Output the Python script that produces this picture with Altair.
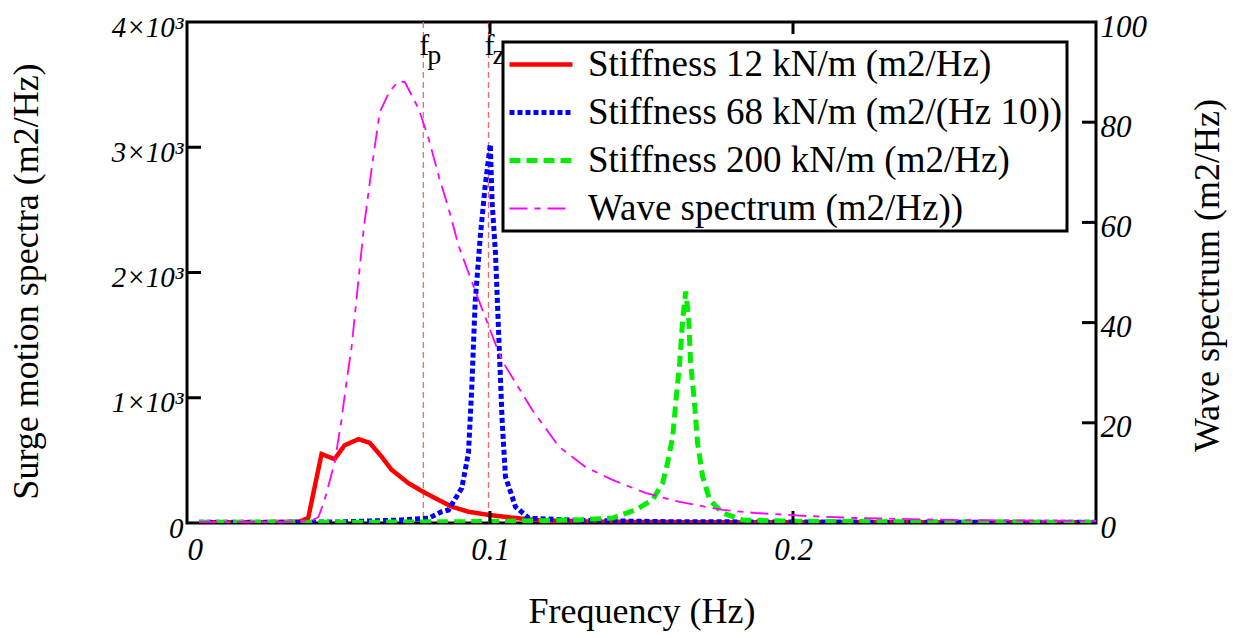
import altair as alt
import pandas as pd

# ---- data ----
S12 = "Stiffness 12 kN/m (m2/Hz)"
S68 = "Stiffness 68 kN/m (m2/(Hz 10))"
S200 = "Stiffness 200 kN/m (m2/Hz)"
WAVE = "Wave spectrum (m2/Hz))"

red_x = [0.004, 0.02, 0.037, 0.040, 0.0444, 0.0487, 0.052, 0.0566, 0.0603, 0.0642, 0.0675,
         0.0731, 0.0775, 0.0819, 0.0874, 0.0929, 0.0997, 0.1083, 0.117, 0.137, 0.17, 0.2, 0.25, 0.3]
red_y = [5, 5, 10, 40, 550, 510, 620, 670, 640, 530, 425,
         318, 255, 198, 130, 90, 64, 40, 20, 10, 6, 5, 5, 5]

blue_x = [0.004, 0.03, 0.05, 0.0705, 0.0797, 0.0841, 0.0863, 0.0907, 0.0929, 0.094, 0.0951,
          0.0968, 0.0984, 0.1001, 0.1007, 0.1018, 0.1029, 0.104, 0.1051, 0.1084, 0.1128,
          0.13, 0.16, 0.2, 0.25, 0.3]
blue_y = [5, 5, 8, 24, 38, 90, 104, 280, 560, 1090, 1760,
          2290, 2690, 3024, 2560, 2157, 1490, 824, 370, 130, 38,
          20, 10, 8, 6, 5]

green_x = [0.004, 0.05, 0.1, 0.12, 0.13, 0.1404, 0.148, 0.1536, 0.157, 0.1586, 0.1603, 0.1613,
           0.1626, 0.1636, 0.1646, 0.1656, 0.1662, 0.1675, 0.1685, 0.1702, 0.1725, 0.1768,
           0.1834, 0.2, 0.25, 0.3]
green_y = [5, 5, 12, 20, 26, 40, 104, 184, 320, 480, 688, 960,
           1280, 1624, 1848, 1624, 1280, 960, 640, 368, 184, 80,
           24, 14, 8, 6]

wave_x = [0.004, 0.03, 0.041, 0.0434, 0.0454, 0.0487, 0.051, 0.0526, 0.0543, 0.0583, 0.0609,
          0.0636, 0.0669, 0.0699, 0.0719, 0.0765, 0.0798, 0.0831, 0.0864, 0.0897, 0.0962,
          0.1029, 0.1051, 0.1139, 0.1228, 0.1315, 0.1404, 0.1513, 0.1626, 0.1768, 0.1877,
          0.2043, 0.2209, 0.253, 0.3]
wave_y = [0.2, 0.2, 0.4, 1.2, 4.6, 12, 20.6, 28, 35, 58.6, 70.6,
          82, 86.2, 88.2, 88, 82.6, 76.6, 69.2, 62.6, 55.2, 44.6,
          34, 31.3, 22.6, 15.2, 11.2, 8.6, 6, 4.2, 2.6, 2,
          1.4, 1, 0.6, 0.4]

marker_f = [0.078, 0.0995]
marker_sub = ["p", "z"]

left_tick_values = [1000, 2000, 3000]
right_tick_values = [20, 40, 60, 80]
x_tick_values = [0.1, 0.2]

series_order = [S12, S68, S200, WAVE]
series_colors = ["#ff0000", "#0000ff", "#00ee00", "#ff00ff"]
series_dash = [[1, 0], [5, 3], [11, 6], [18, 7, 6, 7]]
series_width = [4.5, 5, 5, 1.8]

# ---- tables ----
rows = []
for name, xs, ys in [(S12, red_x, red_y), (S68, blue_x, blue_y), (S200, green_x, green_y)]:
    for a, b in zip(xs, ys):
        rows.append({"f": a, "v": b, "series": name})
stiff_df = pd.DataFrame(rows)
wave_df = pd.DataFrame({"f": wave_x, "w": wave_y, "series": [WAVE] * len(wave_x)})
marker_df = pd.DataFrame({"f": marker_f, "lab": marker_sub})
lt_df = pd.DataFrame({"v": left_tick_values})
rt_df = pd.DataFrame({"w": right_tick_values})
xt_df = pd.DataFrame({"f": x_tick_values})

W, H = 909, 501
SERIF = "Liberation Serif"
LBL = 31

color = alt.Color("series:N", scale=alt.Scale(domain=series_order, range=series_colors),
                  legend=alt.Legend(title=None))
dash = alt.StrokeDash("series:N", scale=alt.Scale(domain=series_order, range=series_dash),
                      legend=alt.Legend(title=None))
swidth = alt.StrokeWidth("series:N",
                         scale=alt.Scale(type="ordinal", domain=series_order, range=series_width),
                         legend=alt.Legend(title=None))

xscale = alt.Scale(domain=[0, 0.3], nice=False, zero=False)
x_axis = alt.Axis(values=[0, 0.1, 0.2],
                  labelExpr="datum.value == 0 ? '0' : format(datum.value, '.1f')",
                  ticks=False, domain=False, grid=False, labelPadding=12,
                  labelFont=SERIF, labelFontStyle="italic", labelFontSize=LBL,
                  labelColor="black",
                  titleFont=SERIF, titleFontSize=36, titleFontWeight="normal",
                  titleColor="black", titleBaseline="alphabetic", titleY=99)
X = alt.X("f:Q", scale=xscale, title="Frequency (Hz)", axis=x_axis)

yl_scale = alt.Scale(domain=[0, 4000], nice=False)
yl_axis = alt.Axis(orient="left", values=[0, 1000, 2000, 3000, 4000],
                   labelExpr="datum.value == 0 ? '0' : format(datum.value/1000, 'd') + '×10³'",
                   ticks=False, domain=False, grid=False, labelPadding=4, labelOffset=5,
                   labelFont=SERIF, labelFontStyle="italic", labelFontSize=29,
                   labelColor="black",
                   titleFont=SERIF, titleFontSize=36, titleFontWeight="normal",
                   titleColor="black", titleAngle=270, titleBaseline="alphabetic",
                   titleAlign="center", titleX=-150, titleY=259)
YL = alt.Y("v:Q", scale=yl_scale, title="Surge motion spectra (m2/Hz)", axis=yl_axis)

yr_scale = alt.Scale(domain=[0, 100], nice=False)
yr_axis = alt.Axis(orient="right", values=[0, 20, 40, 60, 80, 100],
                   ticks=False, domain=False, grid=False, labelPadding=4, labelOffset=5,
                   labelFont=SERIF, labelFontStyle="italic", labelFontSize=LBL,
                   labelColor="black",
                   titleFont=SERIF, titleFontSize=36, titleFontWeight="normal",
                   titleColor="black", titleAngle=270, titleBaseline="alphabetic",
                   titleAlign="center", titleX=122, titleY=253)
YR = alt.Y("w:Q", scale=yr_scale, title="Wave spectrum (m2/Hz)", axis=yr_axis)

stiff = alt.Chart(stiff_df).mark_line(clip=True, strokeCap="butt").encode(
    x=X, y=YL, color=color, strokeDash=dash, strokeWidth=swidth)

left_ticks = alt.Chart(lt_df).mark_rule(color="black", strokeWidth=3).encode(
    y=YL, x=alt.value(0), x2=alt.value(14))

x_ticks_bottom = alt.Chart(xt_df).mark_rule(color="black", strokeWidth=3).encode(
    x=X, y=alt.value(H - 12), y2=alt.value(H))
x_ticks_top = alt.Chart(xt_df).mark_rule(color="black", strokeWidth=3).encode(
    x=X, y=alt.value(0), y2=alt.value(12))

markers = alt.Chart(marker_df).mark_rule(color="#f26a6a", strokeDash=[6, 4], strokeWidth=1.3).encode(
    x=X)
f_text = alt.Chart(marker_df).mark_text(text="f", font=SERIF, fontSize=30, align="left",
                                        baseline="alphabetic", dx=-4, color="black").encode(
    x=X, y=alt.value(33))
sub_text = alt.Chart(marker_df).mark_text(font=SERIF, fontSize=28, align="left",
                                          baseline="alphabetic", dx=4, color="black").encode(
    x=X, y=alt.value(42), text="lab:N")

wave = alt.Chart(wave_df).mark_line(clip=True, strokeCap="butt").encode(
    x=X, y=YR, color=color, strokeDash=dash, strokeWidth=swidth)
right_ticks = alt.Chart(rt_df).mark_rule(color="black", strokeWidth=3).encode(
    y=YR, x=alt.value(W - 14), x2=alt.value(W))

left_group = alt.layer(markers, stiff, left_ticks, x_ticks_bottom, x_ticks_top, f_text, sub_text)
right_group = alt.layer(wave, right_ticks)

chart = alt.layer(left_group, right_group).resolve_scale(y="independent").properties(
    width=W, height=H,
    autosize=alt.AutoSizeParams(type="none"),
    padding={"left": 187, "top": 22, "right": 137, "bottom": 115},
).configure_view(stroke="black", strokeWidth=3).configure_legend(
    orient="none", legendX=316, legendY=20,
    strokeColor="black", strokeWidth=3, fillColor="white", padding=4,
    labelFont=SERIF, labelFontSize=37, labelColor="black", labelLimit=800,
    labelOffset=13, rowPadding=10, clipHeight=37,
    symbolType="stroke", symbolSize=3969,
)

chart.save("out.html", embed_options={"renderer": "svg", "actions": False})
